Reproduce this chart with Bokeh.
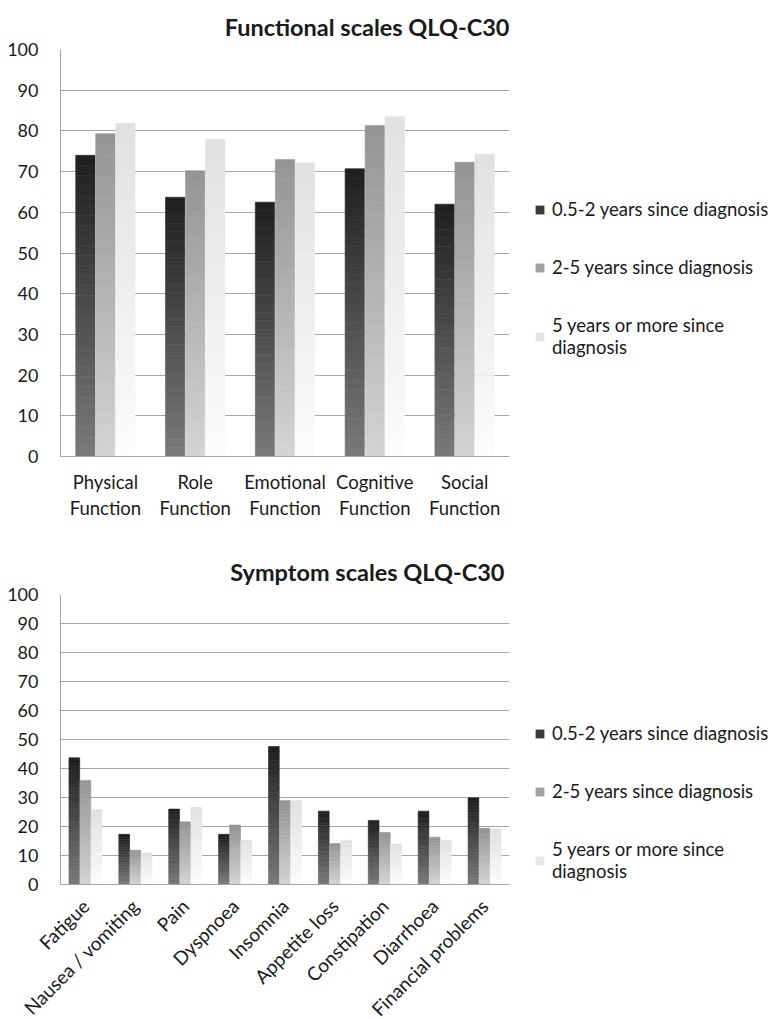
import math
import numpy as np
from bokeh.plotting import figure
from bokeh.models import (ColumnDataSource, FactorRange, Range1d, Legend, LegendItem,
                          FixedTicker)
from bokeh.transform import dodge
from bokeh.layouts import column
from bokeh.embed import file_html
from bokeh.resources import INLINE

# ---------------- data ----------------
series_names = ["0.5-2 years since diagnosis", "2-5 years since diagnosis",
                "5 years or more since\ndiagnosis"]

func_title = "Functional scales QLQ-C30"
func_categories = ["Physical\nFunction", "Role\nFunction", "Emotional\nFunction",
                   "Cognitive\nFunction", "Social\nFunction"]
func_early = [74.0, 63.7, 62.5, 70.7, 62.0]
func_mid = [79.3, 70.2, 73.0, 81.3, 72.3]
func_late = [81.8, 77.9, 72.1, 83.5, 74.3]

sym_title = "Symptom scales QLQ-C30"
sym_categories = ["Fatigue", "Nausea / vomiting", "Pain", "Dyspnoea", "Insomnia",
                  "Appetite loss", "Constipation", "Diarrhoea", "Financial problems"]
sym_early = [43.7, 17.3, 26.0, 17.3, 47.6, 25.3, 22.1, 25.3, 29.9]
sym_mid = [35.9, 11.8, 21.6, 20.5, 29.0, 14.1, 17.9, 16.3, 19.4]
sym_late = [25.8, 10.9, 26.6, 15.2, 29.0, 15.2, 14.0, 15.2, 19.1]

y_ticks = list(range(0, 101, 10))

# ---------------- style ----------------
FONT = "Lato"
TXT = "#1a1a1a"
GRID = "#a6a6a6"
# gradient (top colour, bottom colour) per series
GRADS = [((30, 30, 30), (122, 122, 122)),
         ((148, 148, 148), (212, 212, 212)),
         ((225, 225, 225), (252, 252, 252))]
LEG_COLORS = ["#3a3a3a", "#a0a0a0", "#e6e6e6"]
OFFSETS = [-0.223, 0.0, 0.223]
BAR_W = 0.215


def hexc(rgb):
    return "#%02x%02x%02x" % tuple(int(round(c)) for c in rgb)


def gradient_bars(p, cats, vals, offset, grad, n=30):
    top_c, bot_c = grad
    xs, bottoms, tops, colors = [], [], [], []
    for c, v in zip(cats, vals):
        edges = np.linspace(0.0, v, n + 1)
        for i in range(n):
            t = (i + 0.5) / n
            rgb = [b + (a - b) * t for a, b in zip(top_c, bot_c)]
            xs.append(c)
            bottoms.append(edges[i])
            tops.append(edges[i + 1])
            colors.append(hexc(rgb))
    src = ColumnDataSource(dict(cat=xs, bottom=bottoms, top=tops, color=colors))
    p.vbar(x=dodge("cat", offset, range=p.x_range), bottom="bottom", top="top",
           width=BAR_W, fill_color="color", line_color="color", line_width=0.6,
           source=src)


def make_chart(title, cats, series, fh, top_b, bot_b, legend_y, title_offset=0,
               title_standoff=15):
    p = figure(x_range=FactorRange(*cats), y_range=Range1d(0, 100),
               frame_width=449, frame_height=fh,
               min_border_left=60, min_border_right=249,
               min_border_top=top_b, min_border_bottom=bot_b,
               output_backend="svg", toolbar_location=None, title=title)
    p.title.align = "right"
    p.title.text_font = FONT
    p.title.text_font_size = "23.5px"
    p.title.text_font_style = "bold"
    p.title.text_color = TXT
    p.title.standoff = title_standoff
    p.title.offset = title_offset

    dummies = []
    for vals, off, grad, lc in zip(series, OFFSETS, GRADS, LEG_COLORS):
        gradient_bars(p, cats, vals, off, grad)
        r = p.vbar(x="cat", top="top", bottom="bottom", width=0.0001, fill_color=lc,
                   line_color=None,
                   source=ColumnDataSource(dict(cat=[cats[0]], top=[0.0], bottom=[0.0])))
        dummies.append(r)

    p.outline_line_color = None
    p.xgrid.grid_line_color = None
    p.ygrid.grid_line_color = GRID
    p.ygrid.grid_line_width = 1
    p.yaxis.ticker = FixedTicker(ticks=y_ticks)
    p.yaxis.major_tick_line_color = None
    p.yaxis.minor_tick_line_color = None
    p.yaxis.axis_line_color = GRID
    p.yaxis.major_label_text_font = FONT
    p.yaxis.major_label_text_font_size = "18px"
    p.yaxis.major_label_text_color = TXT
    p.yaxis.major_label_standoff = 16
    p.xaxis.axis_line_color = GRID
    p.xaxis.major_tick_line_color = None
    p.xaxis.minor_tick_line_color = None
    p.xaxis.major_label_text_font = FONT
    p.xaxis.major_label_text_color = TXT

    legend = Legend(items=[LegendItem(label=n, renderers=[r]) for n, r in zip(series_names, dummies)],
                    location=(25, legend_y), orientation="vertical",
                    label_text_font=FONT, label_text_font_size="18.5px",
                    label_text_color=TXT, glyph_width=11, glyph_height=11,
                    label_standoff=7, spacing=36, padding=0, margin=0,
                    border_line_color=None, background_fill_alpha=0)
    p.add_layout(legend, "right")
    return p


p1 = make_chart(func_title, func_categories, [func_early, func_mid, func_late],
                fh=407, top_b=49, bot_b=86, legend_y=98, title_standoff=17)
p1.xaxis.major_label_text_font_size = "18.5px"
p1.xaxis.major_label_standoff = 8

p2 = make_chart(sym_title, sym_categories, [sym_early, sym_mid, sym_late],
                fh=290, top_b=52, bot_b=130, legend_y=2, title_offset=5,
                title_standoff=17)
p2.xaxis.major_label_orientation = math.pi / 4
p2.xaxis.major_label_text_font_size = "19px"
p2.xaxis.major_label_standoff = 12

layout = column(p1, p2, spacing=0)
open("out.html", "w").write(file_html(layout, INLINE))
